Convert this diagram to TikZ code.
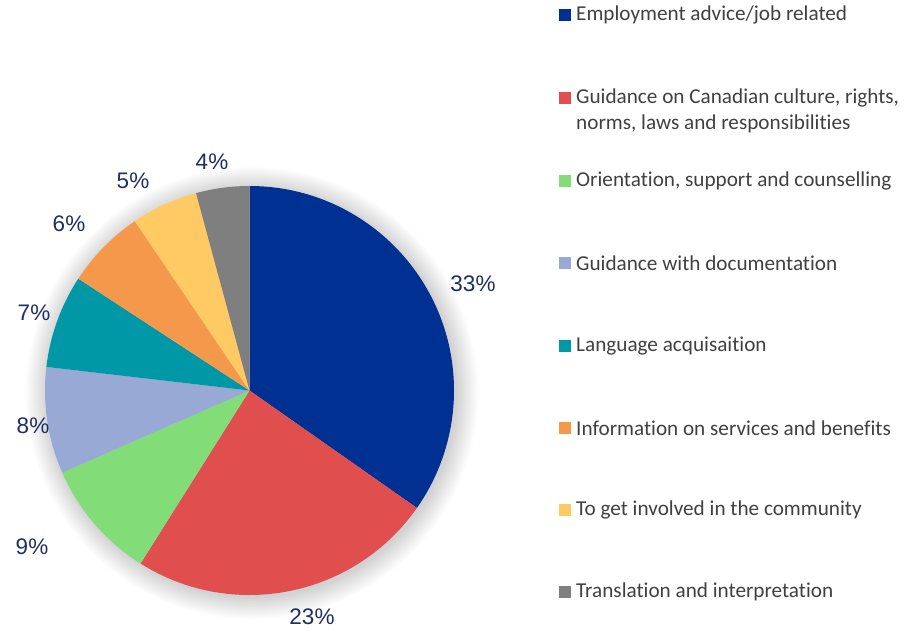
\documentclass[tikz,border=0pt]{standalone}
\usepackage{fontspec}
\setmainfont[Ligatures={NoCommon}]{Carlito}
\newfontfamily\pctfont{Liberation Sans}
\definecolor{cBlue}{RGB}{0,48,146}
\definecolor{cRed}{RGB}{224,78,78}
\definecolor{cGreen}{RGB}{130,220,120}
\definecolor{cLBlue}{RGB}{151,169,212}
\definecolor{cTeal}{RGB}{0,151,167}
\definecolor{cOrange}{RGB}{244,153,76}
\definecolor{cYellow}{RGB}{255,202,100}
\definecolor{cGray}{RGB}{127,127,127}
\definecolor{pctcol}{RGB}{31,45,100}
\definecolor{legtext}{RGB}{64,64,64}
\begin{document}
\begin{tikzpicture}[x=1pt,y=1pt,
  pct/.style={font=\pctfont\fontsize{22.5}{26}\selectfont, text=pctcol, inner sep=0pt},
  legsq/.style={minimum size=12pt, inner sep=0pt},
  legtxt/.style={font=\fontsize{21.2}{26}\selectfont, text=legtext, anchor=west, inner sep=0pt, align=left}]
\useasboundingbox (0,0) rectangle (908,-630);
\coordinate (c) at (249.5,-390.5);
% soft shadow
\foreach \r in {205,206.5,...,226}{
  \fill[black, fill opacity=0.012] (252,-393) circle[radius=\r];
}
\def\R{204.5}
\fill[cBlue]   (c) -- ++(90:\R) arc[start angle=90, end angle=-35.05, radius=\R] -- cycle;
\fill[cRed]    (c) -- ++(-35.05:\R) arc[start angle=-35.05, end angle=-122.21, radius=\R] -- cycle;
\fill[cGreen]  (c) -- ++(-122.21:\R) arc[start angle=-122.21, end angle=-156.32, radius=\R] -- cycle;
\fill[cLBlue]  (c) -- ++(-156.32:\R) arc[start angle=-156.32, end angle=-186.63, radius=\R] -- cycle;
\fill[cTeal]   (c) -- ++(-186.63:\R) arc[start angle=-186.63, end angle=-213.16, radius=\R] -- cycle;
\fill[cOrange] (c) -- ++(-213.16:\R) arc[start angle=-213.16, end angle=-235.89, radius=\R] -- cycle;
\fill[cYellow] (c) -- ++(-235.89:\R) arc[start angle=-235.89, end angle=-254.84, radius=\R] -- cycle;
\fill[cGray]   (c) -- ++(-254.84:\R) arc[start angle=-254.84, end angle=-270, radius=\R] -- cycle;
% percentage labels
\node[pct] (p1) at (473,-284) {33\%};
\node[pct] (p2) at (312,-617) {23\%};
\node[pct] (p3) at (32,-547) {9\%};
\node[pct] (p4) at (33,-426) {8\%};
\node[pct] (p5) at (34,-313) {7\%};
\node[pct] (p6) at (69,-224) {6\%};
\node[pct] (p7) at (133,-181) {5\%};
\node[pct] (p8) at (212,-162) {4\%};
% legend
\node[legsq, fill=cBlue]   (s1) at (565,-15) {};
\node[legsq, fill=cRed]    (s2) at (565,-98) {};
\node[legsq, fill=cGreen]  (s3) at (565,-181) {};
\node[legsq, fill=cLBlue]  (s4) at (565,-263) {};
\node[legsq, fill=cTeal]   (s5) at (565,-346) {};
\node[legsq, fill=cOrange] (s6) at (565,-428) {};
\node[legsq, fill=cYellow] (s7) at (565,-510) {};
\node[legsq, fill=cGray]   (s8) at (565,-592) {};
\node[legtxt] (l1) at (576,-15) {Employment advice/job related};
\node[legtxt] (l2) at (576,-111) {Guidance on Canadian culture, rights,\\norms, laws and responsibilities};
\node[legtxt] (l3) at (576,-181) {Orientation, support and counselling};
\node[legtxt] (l4) at (576,-263) {Guidance with documentation};
\node[legtxt] (l5) at (576,-346) {Language acquisaition};
\node[legtxt] (l6) at (576,-428) {Information on services and benefits};
\node[legtxt] (l7) at (576,-510) {To get involved in the community};
\node[legtxt] (l8) at (576,-592) {Translation and interpretation};
\end{tikzpicture}
\end{document}
